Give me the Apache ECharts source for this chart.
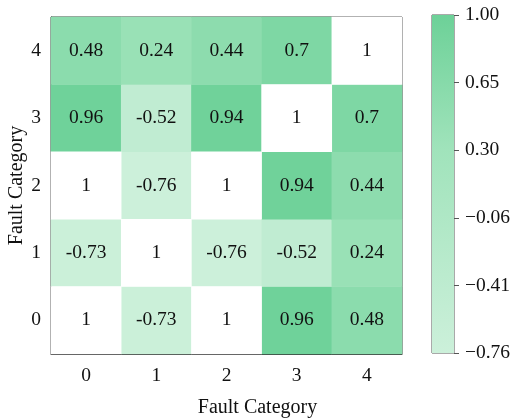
<!DOCTYPE html>
<html>
<head>
<meta charset="utf-8">
<script src="https://cdn.jsdelivr.net/npm/echarts@6/dist/echarts.min.js"></script>
<style>
  html, body { margin: 0; padding: 0; background: #fff; }
  #chart { width: 515px; height: 418px; }
</style>
</head>
<body>
<div id="chart"></div>
<script>
// Fault category labels on both axes
const categories = ['0', '1', '2', '3', '4'];

// Correlation values, one array per row (row 0 at the bottom)
const row0 = [1, -0.73, 1, 0.96, 0.48];
const row1 = [-0.73, 1, -0.76, -0.52, 0.24];
const row2 = [1, -0.76, 1, 0.94, 0.44];
const row3 = [0.96, -0.52, 0.94, 1, 0.7];
const row4 = [0.48, 0.24, 0.44, 0.7, 1];

// Colour scale range and colour bar tick labels
const colorMin = -0.76;
const colorMax = 1.0;
const colorbarTicks = ['\u22120.76', '\u22120.41', '\u22120.06', '0.30', '0.65', '1.00'];

const rows = [row0, row1, row2, row3, row4];
const coloured = [];
const masked = [];
rows.forEach((row, y) => {
  row.forEach((v, x) => {
    // cells equal to 1 are masked (left blank) but still labelled
    if (v === 1) masked.push([x, y, v]);
    else coloured.push([x, y, v]);
  });
});

const stops = ['#ccf0da', '#a0e3bb', '#6dd198'];
const font = 'Liberation Serif';
const axisColor = '#333';
const fs = 19.5;
const nameFs = 20;

const chart = echarts.init(document.getElementById('chart'), null, { renderer: 'canvas' });
chart.setOption({
  animation: false,
  textStyle: { fontFamily: font },
  grid: [
    { left: 51, top: 17, width: 351, height: 337, containLabel: false, outerBoundsMode: 'none',
      show: true, borderColor: axisColor, borderWidth: 1, backgroundColor: 'transparent' },
    { left: 432, top: 15, width: 22, height: 338, containLabel: false, outerBoundsMode: 'none',
      show: true, borderColor: '#555', borderWidth: 1, backgroundColor: 'transparent' }
  ],
  xAxis: [
    {
      gridIndex: 0, type: 'category', data: categories,
      // the x title is centred on the whole figure, right of the plot centre
      name: 'Fault Category', nameLocation: 'middle', nameGap: 44, nameMoveOverlap: false,
      nameTextStyle: { fontFamily: font, fontSize: nameFs, color: '#111', padding: [0, 0, 0, 62] },
      axisLine: { lineStyle: { color: axisColor } },
      axisTick: { alignWithLabel: true, length: 5, lineStyle: { color: axisColor } },
      axisLabel: { fontFamily: font, fontSize: fs, color: '#111', margin: 12 },
      splitLine: { show: false }
    },
    {
      gridIndex: 1, type: 'category', data: [''],
      axisLine: { show: false }, axisTick: { show: false }, axisLabel: { show: false }
    }
  ],
  yAxis: [
    {
      gridIndex: 0, type: 'category', data: categories,
      name: 'Fault Category', nameLocation: 'middle', nameGap: 24, nameMoveOverlap: false,
      nameTextStyle: { fontFamily: font, fontSize: nameFs, color: '#111' },
      axisLine: { lineStyle: { color: axisColor } },
      axisTick: { alignWithLabel: true, length: 5, lineStyle: { color: axisColor } },
      axisLabel: { fontFamily: font, fontSize: fs, color: '#111', margin: 10 },
      splitLine: { show: false }
    },
    {
      gridIndex: 1, type: 'value', position: 'right', min: 0, max: colorbarTicks.length - 1, interval: 1,
      axisLine: { show: false },
      axisTick: { show: true, length: 5, lineStyle: { color: '#555' } },
      axisLabel: {
        fontFamily: font, fontSize: fs, color: '#111', margin: 11,
        formatter: (v) => colorbarTicks[Math.round(v)]
      },
      splitLine: { show: false }
    }
  ],
  visualMap: {
    show: false, type: 'continuous', seriesIndex: 0,
    min: colorMin, max: colorMax,
    inRange: { color: stops }
  },
  series: [
    {
      type: 'heatmap', xAxisIndex: 0, yAxisIndex: 0, data: coloured,
      label: { show: true, fontFamily: font, fontSize: fs, color: '#111', formatter: (p) => String(p.value[2]) },
      emphasis: { disabled: true }
    },
    {
      type: 'heatmap', xAxisIndex: 0, yAxisIndex: 0, data: masked,
      itemStyle: { color: '#ffffff' },
      label: { show: true, fontFamily: font, fontSize: fs, color: '#111', formatter: (p) => String(p.value[2]) },
      emphasis: { disabled: true }
    },
    {
      // colour bar
      type: 'bar', xAxisIndex: 1, yAxisIndex: 1, barWidth: '100%',
      data: [colorbarTicks.length - 1],
      itemStyle: {
        color: new echarts.graphic.LinearGradient(0, 1, 0, 0, [
          { offset: 0, color: stops[0] },
          { offset: (0.30 - colorMin) / (colorMax - colorMin), color: stops[1] },
          { offset: 1, color: stops[2] }
        ])
      },
      silent: true
    }
  ]
});
</script>
</body>
</html>
